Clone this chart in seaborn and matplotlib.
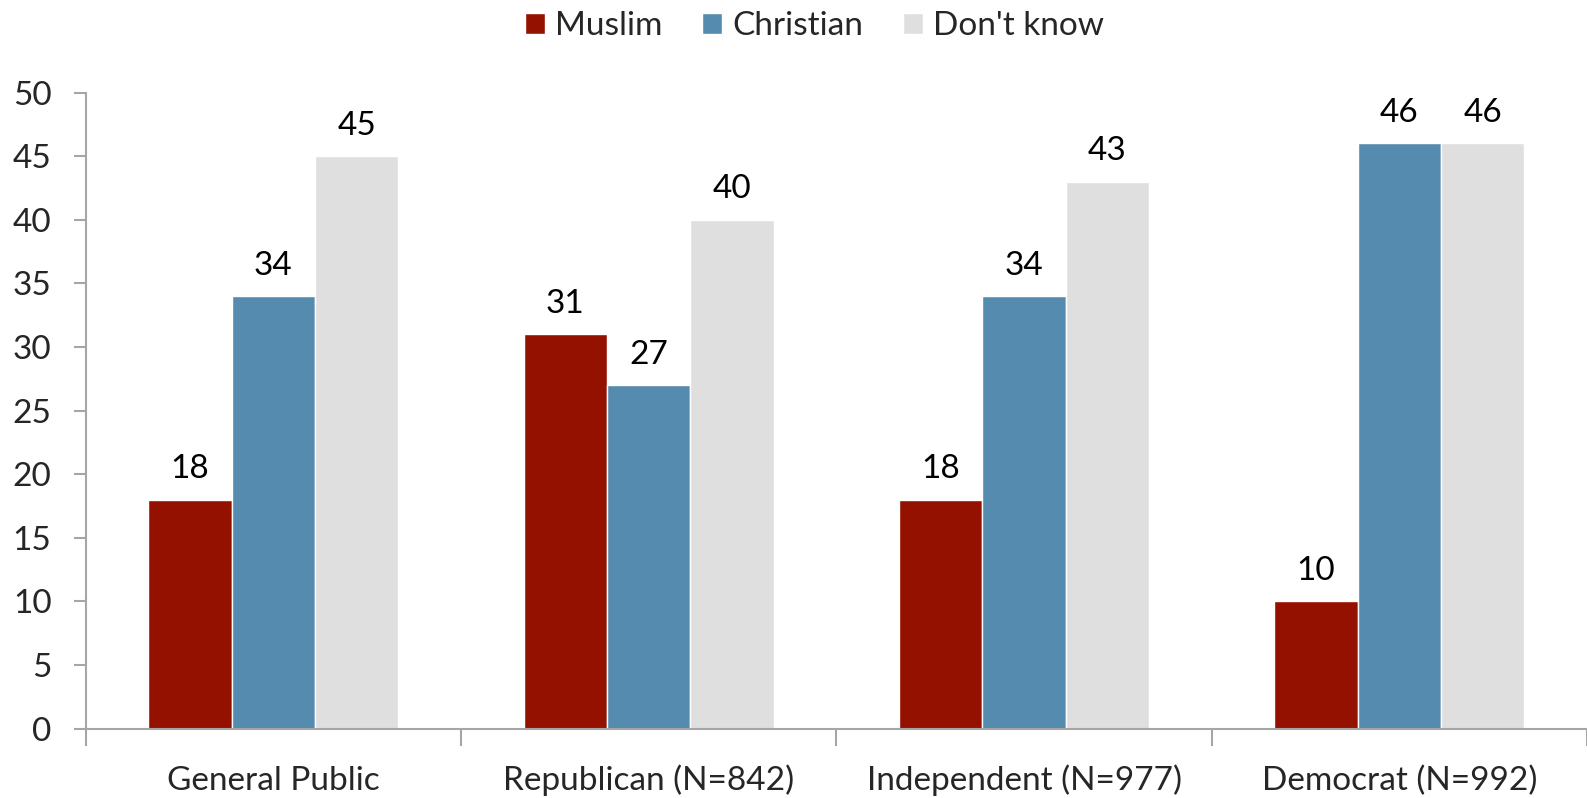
import pandas as pd
import matplotlib.pyplot as plt
import seaborn as sns
import numpy as np

groups = ["General Public", "Republican (N=842)", "Independent (N=977)", "Democrat (N=992)"]
series = ["Muslim", "Christian", "Don't know"]
muslim = [18, 31, 18, 10]
christian = [34, 27, 34, 46]
dont_know = [45, 40, 43, 46]
colors = ["#941100", "#568BB0", "#DFDFDF"]

df = pd.DataFrame({
    "group": groups * 3,
    "answer": [s for s in series for _ in groups],
    "value": muslim + christian + dont_know,
})

sns.set_style("white")
plt.rcParams['font.family'] = ['Lato', 'DejaVu Sans']
fs = 24

fig = plt.figure(figsize=(15.87, 7.98), dpi=100)
ax = fig.add_axes([0.054, 0.087, 0.946, 0.797])

sns.barplot(data=df, x="group", y="value", hue="answer", order=groups, hue_order=series,
            palette=colors, width=2/3, gap=0, saturation=1, ax=ax, legend=True)

for c in ax.containers:
    ax.bar_label(c, fmt="%d", padding=11, fontsize=fs, color="black")

ax.set_ylim(0, 50)
ax.set_yticks(np.arange(0, 51, 5))
ax.set_xlim(-0.5, 3.5)
ax.set_xlabel("")
ax.set_ylabel("")

axis_color = "#A6A6A6"
for side in ["top", "right"]:
    ax.spines[side].set_visible(False)
for side in ["left", "bottom"]:
    ax.spines[side].set_color(axis_color)
    ax.spines[side].set_linewidth(1.5)

ax.tick_params(axis="y", which="major", left=True, length=8.6, width=1.5, color=axis_color,
               labelsize=fs, pad=16)
ax.tick_params(axis="x", which="major", bottom=False, length=0, labelsize=fs, pad=44)
for lab in ax.get_xticklabels():
    lab.set_verticalalignment("baseline")
ax.set_xticks(np.arange(-0.5, 3.6, 1), minor=True)
ax.tick_params(axis="x", which="minor", bottom=True, length=12, width=1.5, color=axis_color)

handles, labels = ax.get_legend_handles_labels()
ax.legend(handles, labels, loc="center", bbox_to_anchor=(0.513, 0.967), bbox_transform=fig.transFigure,
          ncol=3, frameon=False, fontsize=fs, handlelength=0.6, handleheight=0.6,
          handletextpad=0.3, columnspacing=1.2)

fig.savefig("out.png", dpi=100)
